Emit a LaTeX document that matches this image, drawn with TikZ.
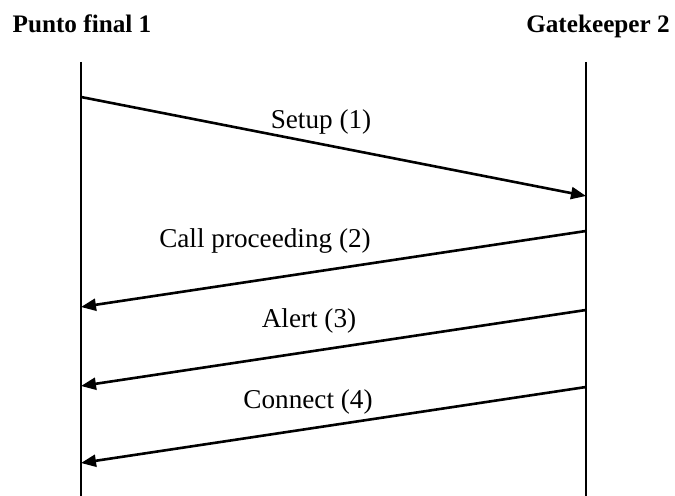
\documentclass[tikz,border=0pt]{standalone}
\usepackage{fontspec}
\setmainfont{Liberation Serif}
\usetikzlibrary{arrows.meta}
\tikzset{
  lifeline/.style={line width=1pt, black},
  msg/.style={line width=1.3pt, black, -{Triangle[length=7.5pt,width=6pt]}},
  msglabel/.style={anchor=base, inner sep=0pt, font=\fontsize{13.6pt}{15pt}\selectfont},
  header/.style={anchor=base, inner sep=0pt, font=\fontsize{12.6pt}{14pt}\selectfont\bfseries}
}
\begin{document}
\begin{tikzpicture}[x=0.5pt, y=-0.5pt]
  \useasboundingbox (0,0) rectangle (675,496);

  % participants
  \node[header] (ep) at (82,33) {Punto final 1};
  \node[header] (gk) at (598,33) {Gatekeeper 2};

  % lifelines
  \coordinate (epTop) at (81,62);
  \coordinate (epBot) at (81,496);
  \coordinate (gkTop) at (586,62);
  \coordinate (gkBot) at (586,496);
  \draw[lifeline] (epTop) -- (epBot);
  \draw[lifeline] (gkTop) -- (gkBot);

  % message end points on the lifelines
  \coordinate (s1) at (81,97);   \coordinate (e1) at (586,196);
  \coordinate (s2) at (586,231); \coordinate (e2) at (81,307);
  \coordinate (s3) at (586,310); \coordinate (e3) at (81,386);
  \coordinate (s4) at (586,387); \coordinate (e4) at (81,463);

  % messages
  \draw[msg] (s1) -- (e1);
  \draw[msg] (s2) -- (e2);
  \draw[msg] (s3) -- (e3);
  \draw[msg] (s4) -- (e4);

  % message labels
  \node[msglabel] (l1) at (321,129) {Setup (1)};
  \node[msglabel] (l2) at (265,248) {Call proceeding (2)};
  \node[msglabel] (l3) at (309,328) {Alert (3)};
  \node[msglabel] (l4) at (308,409) {Connect (4)};
\end{tikzpicture}
\end{document}
